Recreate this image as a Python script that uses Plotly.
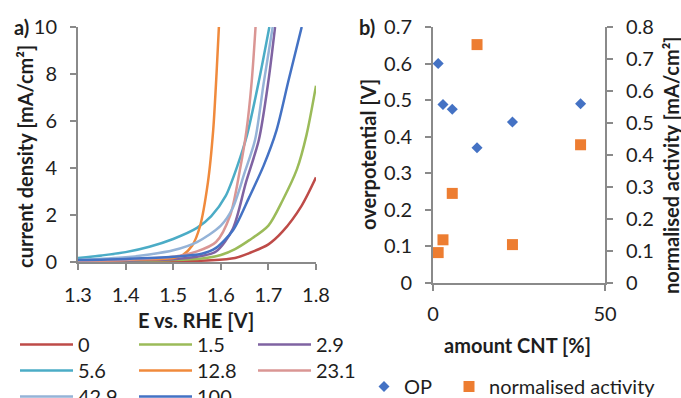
import plotly.graph_objects as go

W, H = 681, 398

# ---------- data: panel a (polarisation curves) ----------
series_names = ["0", "1.5", "2.9", "5.6", "12.8", "23.1", "42.9", "100"]
series_colors = ["#BE4B48", "#9BBB59", "#7F63A2", "#4BACC6", "#F08A3C", "#DA9694", "#95B3D7", "#4472C4"]

e_0 = [1.30, 1.40, 1.50, 1.58, 1.63, 1.66, 1.70, 1.73, 1.77, 1.80]
j_0 = [0.00, 0.01, 0.03, 0.07, 0.17, 0.38, 0.75, 1.30, 2.40, 3.60]

e_1_5 = [1.30, 1.40, 1.50, 1.56, 1.60, 1.63, 1.66, 1.70, 1.73, 1.76, 1.78, 1.80]
j_1_5 = [0.02, 0.04, 0.08, 0.15, 0.30, 0.55, 0.93, 1.55, 2.63, 3.95, 5.40, 7.50]

e_2_9 = [1.30, 1.40, 1.50, 1.55, 1.59, 1.625, 1.653, 1.68, 1.70, 1.714]
j_2_9 = [0.03, 0.06, 0.12, 0.22, 0.45, 1.40, 3.40, 5.20, 7.70, 10.0]

e_5_6 = [1.30, 1.35, 1.40, 1.45, 1.50, 1.55, 1.58, 1.61, 1.635, 1.655, 1.68, 1.702]
j_5_6 = [0.17, 0.28, 0.42, 0.65, 0.98, 1.45, 1.95, 2.80, 4.10, 5.40, 7.70, 10.0]

e_12_8 = [1.30, 1.40, 1.50, 1.52, 1.54, 1.556, 1.573, 1.584, 1.591, 1.596]
j_12_8 = [0.05, 0.09, 0.17, 0.30, 0.70, 1.50, 3.40, 5.60, 8.00, 10.0]

e_23_1 = [1.30, 1.40, 1.50, 1.55, 1.59, 1.62, 1.64, 1.654, 1.665, 1.673]
j_23_1 = [0.05, 0.10, 0.22, 0.45, 0.85, 2.00, 3.90, 5.60, 7.70, 10.0]

e_42_9 = [1.30, 1.40, 1.45, 1.50, 1.55, 1.60, 1.625, 1.65, 1.672, 1.69, 1.709]
j_42_9 = [0.08, 0.20, 0.32, 0.50, 0.85, 1.55, 2.30, 3.80, 5.20, 7.60, 10.0]

e_100 = [1.30, 1.40, 1.50, 1.56, 1.59, 1.626, 1.66, 1.69, 1.717, 1.742, 1.77]
j_100 = [0.08, 0.13, 0.22, 0.35, 0.60, 1.36, 2.77, 4.10, 5.60, 7.70, 10.0]

series_e = [e_0, e_1_5, e_2_9, e_5_6, e_12_8, e_23_1, e_42_9, e_100]
series_j = [j_0, j_1_5, j_2_9, j_5_6, j_12_8, j_23_1, j_42_9, j_100]
legend_rows = ["legend", "legend", "legend", "legend3", "legend3", "legend3", "legend4", "legend4"]

x_ticks_a = [1.3, 1.4, 1.5, 1.6, 1.7, 1.8]
y_ticks_a = [0, 2, 4, 6, 8, 10]

# ---------- data: panel b ----------
cnt_amount = [1.5, 2.9, 5.6, 12.8, 23.1, 42.9]
overpotential = [0.60, 0.488, 0.475, 0.37, 0.44, 0.49]
norm_activity = [0.095, 0.135, 0.28, 0.745, 0.12, 0.432]

FONT = "Lato, 'Open Sans', sans-serif"
TXT = "#1e1e1e"
AX = "#8a8a8a"
FS = 20


def px(x):
    return x / W


def py(y):
    return 1 - y / H


fig = go.Figure()

for name, col, ex, jy, lg in zip(series_names, series_colors, series_e, series_j, legend_rows):
    fig.add_trace(go.Scatter(
        x=ex, y=jy, mode="lines", name=name,
        line=dict(color=col, width=2.5, shape="spline", smoothing=0.8),
        xaxis="x", yaxis="y", legend=lg, cliponaxis=True))

fig.add_trace(go.Scatter(
    x=cnt_amount, y=overpotential, mode="markers", name="OP",
    marker=dict(symbol="diamond", size=8.5, color="#4472C4"),
    xaxis="x2", yaxis="y2", legend="legend2"))
fig.add_trace(go.Scatter(
    x=cnt_amount, y=norm_activity, mode="markers", name="normalised activity",
    marker=dict(symbol="square", size=11, color="#ED7D31"),
    xaxis="x2", yaxis="y3", legend="legend5"))

axis_common = dict(showgrid=False, zeroline=False, showline=True, linecolor=AX, linewidth=2,
                   ticks="outside", tickcolor=AX, tickwidth=2, ticklen=6,
                   tickfont=dict(family=FONT, size=FS, color=TXT))

top_px = 27
leg_font = dict(family=FONT, size=FS, color=TXT)


def row_legend(top):
    return dict(orientation="h", x=px(15), y=py(top), xanchor="left", yanchor="top",
                itemwidth=53, entrywidth=51, entrywidthmode="pixels", font=leg_font,
                bgcolor="rgba(0,0,0,0)")


def single_legend(left, top):
    return dict(orientation="h", x=px(left), y=py(top), xanchor="left", yanchor="top",
                font=leg_font, bgcolor="rgba(0,0,0,0)")


fig.update_layout(
    width=W, height=H,
    margin=dict(l=0, r=0, t=0, b=0, autoexpand=False),
    paper_bgcolor="white", plot_bgcolor="white",
    showlegend=True,
    xaxis=dict(domain=[px(78), px(316)], range=[1.3, 1.8], tickvals=x_ticks_a,
               ticktext=[f"{v:.1f}" for v in x_ticks_a], anchor="y", ticklabelstandoff=8,
               **axis_common),
    yaxis=dict(domain=[py(262), py(top_px)], range=[0, 10], tickvals=y_ticks_a, anchor="x",
               ticklabelstandoff=9, **axis_common),
    xaxis2=dict(domain=[px(433), px(605)], range=[0, 50], tickvals=[0, 50], anchor="y2",
                ticklabelstandoff=6, **axis_common),
    yaxis2=dict(domain=[py(283), py(top_px)], range=[0, 0.7], dtick=0.1, anchor="x2",
                ticklabelstandoff=9, **axis_common),
    yaxis3=dict(range=[0, 0.8], dtick=0.1, overlaying="y2", side="right", anchor="x2",
                ticklabelstandoff=9, **axis_common),
    legend=row_legend(325),
    legend3=row_legend(351),
    legend4=row_legend(377),
    legend2=single_legend(364, 367),
    legend5=single_legend(449, 367),
)

ann = [
    dict(text="<b>a)</b>", x=px(12), y=py(27), xanchor="left", yanchor="middle", textangle=0),
    dict(text="<b>b)</b>", x=px(357), y=py(27), xanchor="left", yanchor="middle", textangle=0),
    dict(text="<b>current density [mA/cm²]</b>", x=px(25), y=py(157), xanchor="center",
         yanchor="middle", textangle=-90),
    dict(text="<b>E vs. RHE [V]</b>", x=px(196), y=py(320), xanchor="center", yanchor="middle",
         textangle=0),
    dict(text="<b>overpotential [V]</b>", x=px(368), y=py(155), xanchor="center",
         yanchor="middle", textangle=-90),
    dict(text="<b>amount CNT [%]</b>", x=px(517), y=py(345), xanchor="center", yanchor="middle",
         textangle=0),
    dict(text="<b>normalised activity [mA/cm²]</b>", x=px(671), y=py(165), xanchor="center",
         yanchor="middle", textangle=-90),
]
for a in ann:
    fig.add_annotation(xref="paper", yref="paper", showarrow=False,
                       font=dict(family=FONT, size=FS, color=TXT), **a)

fig.write_html("out.html", config={"displayModeBar": False},
               post_script="document.body.style.margin='0';document.body.style.overflow='hidden';")
